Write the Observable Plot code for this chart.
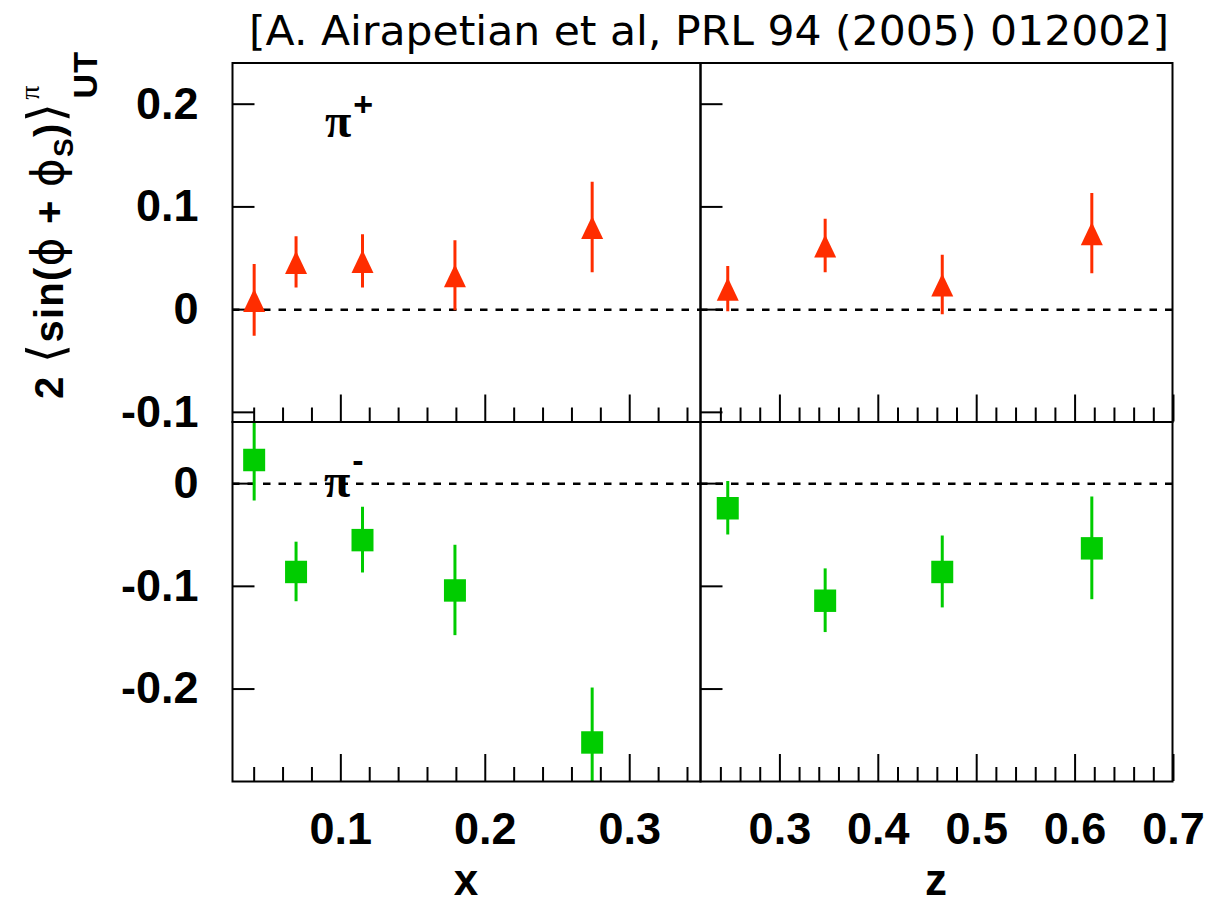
<!DOCTYPE html>
<html>
<head>
<meta charset="utf-8">
<script src="https://cdn.jsdelivr.net/npm/d3@7"></script>
<script src="https://cdn.jsdelivr.net/npm/@observablehq/plot@0.6"></script>
<style>
  body { margin: 0; background: #fff; }
  #chart { position: relative; width: 1232px; height: 906px; overflow: hidden; background: #fff; }
  #chart svg { position: absolute; left: 0; top: 0; }
</style>
</head>
<body>
<div id="chart"></div>
<script>
// HERMES Collins moments 2<sin(phi+phi_S)>_UT for charged pions, vs x and vs z

// kinematic bins
const xBins = [0.040, 0.069, 0.115, 0.179, 0.274];
const zBins = [0.247, 0.346, 0.465, 0.617];

// pi+ amplitudes and statistical errors
const piPlusVsX    = [0.009, 0.046, 0.047, 0.033, 0.080];
const piPlusVsXErr = [0.035, 0.025, 0.026, 0.034, 0.044];
const piPlusVsZ    = [0.020, 0.062, 0.024, 0.074];
const piPlusVsZErr = [0.022, 0.026, 0.029, 0.039];

// pi- amplitudes and statistical errors
const piMinusVsX    = [0.023, -0.086, -0.055, -0.104, -0.252];
const piMinusVsXErr = [0.040, 0.029, 0.032, 0.044, 0.053];
const piMinusVsZ    = [-0.024, -0.114, -0.086, -0.063];
const piMinusVsZErr = [0.026, 0.031, 0.035, 0.050];

// axis ranges and labelled ticks
const xRange = [0.025, 0.349];
const zRange = [0.2193, 0.699];
const yRangeTop = [-0.1094, 0.2401];
const yRangeBottom = [-0.290, 0.060];
const xTickValues = [0.1, 0.2, 0.3];
const zTickValues = [0.3, 0.4, 0.5, 0.6, 0.7];
const yTicksTop = [0.2, 0.1, 0, -0.1];
const yTicksBottom = [0, -0.1, -0.2];

const title = "[A. Airapetian et al, PRL 94 (2005) 012002]";

// ---- layout ----
const W = 1232, H = 906;
const colLeft = [232, 700], colRight = [700, 1172];
const rowTop = [62.5, 421.5], rowBottom = [421.5, 781];
const RED = "#ff2d00", GREEN = "#00cc00";

const rows = (xs, ys, es) => xs.map((x, i) => ({x, y: ys[i], e: es[i]}));
const minorTicks = (lo, hi, majors) =>
  d3.range(Math.ceil(lo / 0.02 - 1e-6), Math.floor(hi / 0.02 + 1e-6) + 1)
    .map(i => +(i * 0.02).toFixed(2))
    .filter(v => v > lo + 0.005 && !majors.some(m => Math.abs(m - v) < 1e-6));
const fmt = d => (Math.abs(d) < 1e-9 ? "0" : String(d));

// marker shapes: upward triangle and square centred on the point
const triangleUp = {
  draw(ctx, size) {
    const r = Math.sqrt(size / Math.PI);
    ctx.moveTo(0, -1.05 * r);
    ctx.lineTo(r, 1.05 * r);
    ctx.lineTo(-r, 1.05 * r);
    ctx.closePath();
  }
};
const square = {
  draw(ctx, size) {
    const r = Math.sqrt(size / Math.PI);
    ctx.rect(-r, -1.02 * r, 2 * r, 2.04 * r);
  }
};

function panel({col, row, xDomain, yDomain, xMajor, yMajor, points, color, symbol, xLabels, yLabels}) {
  const [x0, x1] = col, [y0, y1] = row;
  const fw = x1 - x0, fh = y1 - y0;
  const marks = [
    Plot.ruleY([0], {stroke: "black", strokeWidth: 2.5, strokeDasharray: "7.5,8"}),
    Plot.tickX(xMajor, {x: d => d, stroke: "black", strokeWidth: 2, insetTop: fh - 27}),
    Plot.tickX(minorTicks(xDomain[0], xDomain[1], xMajor), {x: d => d, stroke: "black", strokeWidth: 2, insetTop: fh - 14}),
    Plot.tickY(yMajor, {y: d => d, stroke: "black", strokeWidth: 2, insetRight: fw - 22.5}),
    Plot.ruleX(points, {x: "x", y1: d => d.y - d.e, y2: d => d.y + d.e, stroke: color, strokeWidth: 3, clip: true}),
    Plot.dot(points, {x: "x", y: "y", r: 11, symbol, fill: color, clip: true}),
    Plot.frame({stroke: "black", strokeWidth: 2})
  ];
  if (xLabels) marks.push(Plot.axisX(xMajor, {anchor: "bottom", label: null, tickSize: 0, tickPadding: 31, tickFormat: fmt}));
  if (yLabels) marks.push(Plot.axisY(yMajor, {anchor: "left", label: null, tickSize: 0, tickPadding: 34, tickFormat: fmt}));
  return Plot.plot({
    width: W, height: H,
    marginLeft: x0, marginRight: W - x1, marginTop: y0, marginBottom: H - y1,
    x: xLabels ? {domain: xDomain, label: null} : {domain: xDomain, axis: null},
    y: yLabels ? {domain: yDomain, label: null} : {domain: yDomain, axis: null},
    style: {background: "transparent", overflow: "visible", fontFamily: "Liberation Sans, Arial, sans-serif",
            fontSize: "45px", fontWeight: "bold", color: "black"},
    marks
  });
}

const chart = document.getElementById("chart");
chart.append(
  panel({col: colLeft, row: rowTop, xDomain: xRange, yDomain: yRangeTop, xMajor: xTickValues, yMajor: yTicksTop,
         points: rows(xBins, piPlusVsX, piPlusVsXErr), color: RED, symbol: triangleUp, xLabels: false, yLabels: true}),
  panel({col: colRight, row: rowTop, xDomain: zRange, yDomain: yRangeTop, xMajor: zTickValues, yMajor: yTicksTop,
         points: rows(zBins, piPlusVsZ, piPlusVsZErr), color: RED, symbol: triangleUp, xLabels: false, yLabels: false}),
  panel({col: colLeft, row: rowBottom, xDomain: xRange, yDomain: yRangeBottom, xMajor: xTickValues, yMajor: yTicksBottom,
         points: rows(xBins, piMinusVsX, piMinusVsXErr), color: GREEN, symbol: square, xLabels: true, yLabels: true}),
  panel({col: colRight, row: rowBottom, xDomain: zRange, yDomain: yRangeBottom, xMajor: zTickValues, yMajor: yTicksBottom,
         points: rows(zBins, piMinusVsZ, piMinusVsZErr), color: GREEN, symbol: square, xLabels: true, yLabels: false})
);

// ---- titles and annotations ----
const ann = d3.select(chart).append("svg").attr("width", W).attr("height", H);

ann.append("text")
  .attr("x", 249).attr("y", 45)
  .attr("font-family", "DejaVu Sans").attr("font-size", 41)
  .attr("textLength", 920).attr("lengthAdjust", "spacingAndGlyphs")
  .text(title);

// axis titles
ann.append("text").attr("x", 466).attr("y", 895).attr("text-anchor", "middle")
  .attr("font-family", "Liberation Sans").attr("font-weight", "bold").attr("font-size", 44).text("x");
ann.append("text").attr("x", 936).attr("y", 895).attr("text-anchor", "middle")
  .attr("font-family", "Liberation Sans").attr("font-weight", "bold").attr("font-size", 44).text("z");

// rotated y title: 2 <sin(phi + phi_S)>^pi_UT
const yl = ann.append("text")
  .attr("transform", "translate(63,399) rotate(-90)")
  .attr("font-family", "Liberation Sans").attr("font-weight", "bold").attr("font-size", 40)
  .attr("letter-spacing", 1.2);
const sym = (t, size) => yl.append("tspan").attr("font-family", "DejaVu Sans").attr("font-weight", "normal")
  .attr("font-size", size).text(t);
yl.append("tspan").text("2 ");
sym("⟨", 50);
yl.append("tspan").text("sin(");
sym("ϕ", 44);
yl.append("tspan").text(" + ");
sym("ϕ", 44);
yl.append("tspan").attr("font-size", 28).attr("dy", 10).text("S");
yl.append("tspan").attr("dy", -10).text(")");
sym("⟩", 50);
yl.append("tspan").attr("font-family", "Liberation Serif").attr("font-weight", "normal")
  .attr("font-size", 28).attr("dx", 2).attr("dy", -24).text("π");
yl.append("tspan").attr("font-size", 34).attr("dx", -14).attr("dy", 58).text("UT");

// particle labels
function pionLabel(x, y, charge, chargeDy) {
  const t = ann.append("text").attr("x", x).attr("y", y);
  t.append("tspan").attr("font-family", "Liberation Serif").attr("font-weight", "bold")
    .attr("font-size", 48).text("π");
  t.append("tspan").attr("font-family", "Liberation Sans").attr("font-weight", "bold")
    .attr("font-size", 34).attr("dx", 2).attr("dy", chargeDy).text(charge);
}
pionLabel(325, 137, "+", -21);
pionLabel(324, 497, "-", -25);
</script>
</body>
</html>
